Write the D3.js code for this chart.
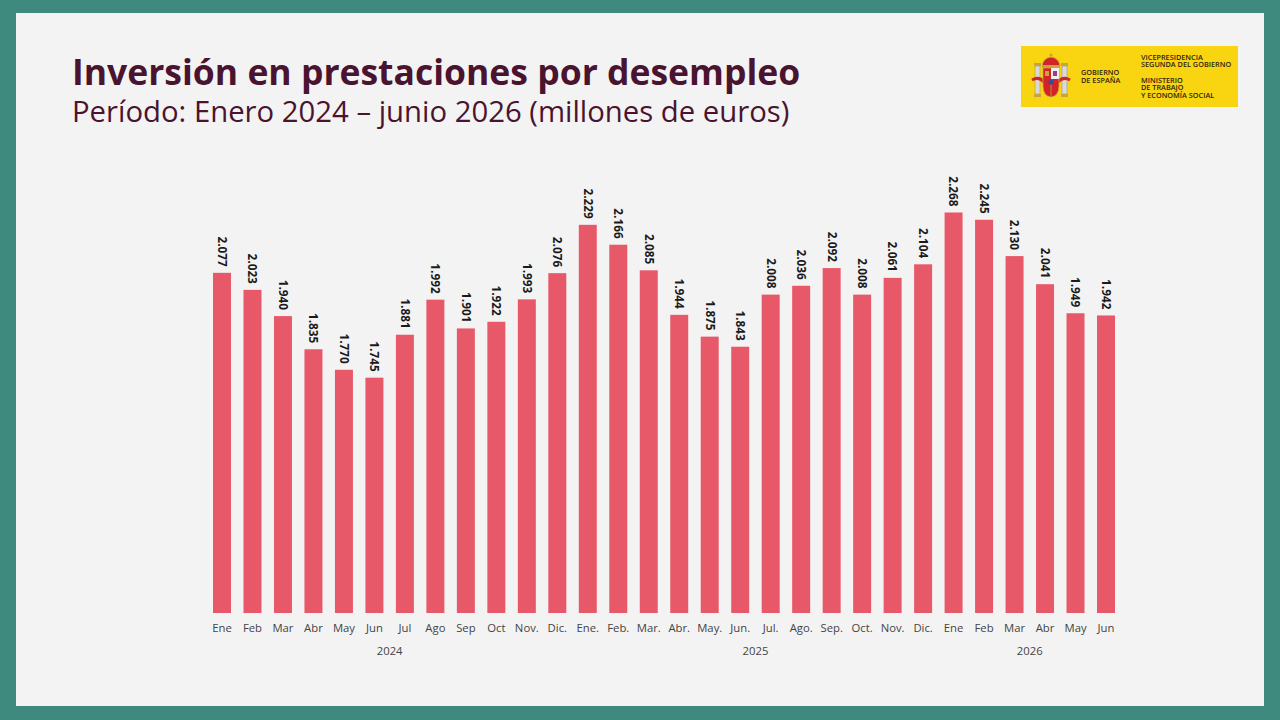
<!DOCTYPE html>
<html><head><meta charset="utf-8">
<script src="https://cdn.jsdelivr.net/npm/d3@7/dist/d3.min.js"></script>
<style>
html,body{margin:0;padding:0;background:#3f8a7e;}
svg{display:block;font-family:"Open Sans",sans-serif;}
</style></head>
<body>
<svg id="chart" width="1280" height="720"></svg>
<script>
const months = ["Ene","Feb","Mar","Abr","May","Jun","Jul","Ago","Sep","Oct","Nov.","Dic.",
  "Ene.","Feb.","Mar.","Abr.","May.","Jun.","Jul.","Ago.","Sep.","Oct.","Nov.","Dic.",
  "Ene","Feb","Mar","Abr","May","Jun"];
const years = ["2024","2025","2026"];
const yearOf = [0,0,0,0,0,0,0,0,0,0,0,0, 1,1,1,1,1,1,1,1,1,1,1,1, 2,2,2,2,2,2];
const values = [2077,2023,1940,1835,1770,1745,1881,1992,1901,1922,1993,2076,
  2229,2166,2085,1944,1875,1843,2008,2036,2092,2008,2061,2104,
  2268,2245,2130,2041,1949,1942];
const title = "Inversión en prestaciones por desempleo";
const subtitle = "Período: Enero 2024 – junio 2026 (millones de euros)";

const svg = d3.select("#chart");
svg.append("rect").attr("x",0).attr("y",0).attr("width",1280).attr("height",720).attr("fill","#3f8a7e");
svg.append("rect").attr("x",16).attr("y",13).attr("width",1248).attr("height",693).attr("fill","#f3f3f3");

svg.append("text").attr("x",72).attr("y",85).attr("fill","#4a1430")
  .attr("font-size",35.5).attr("font-weight",700).text(title);
svg.append("text").attr("x",72).attr("y",122).attr("fill","#4a1430")
  .attr("font-size",29.3).attr("font-weight",400).text(subtitle);

// Logo
const logo = svg.append("g").attr("transform","translate(1021,46)");
logo.append("rect").attr("width",217).attr("height",61).attr("fill","#f9d411");
const arms = logo.append("g").attr("transform","translate(10,6)");
[[4],[31]].forEach(([px])=>{
  arms.append("rect").attr("x",px).attr("y",14).attr("width",5).attr("height",28).attr("fill","#d9d9d9").attr("stroke","#9a8a60").attr("stroke-width",0.5);
  arms.append("rect").attr("x",px-1).attr("y",11).attr("width",7).attr("height",3).attr("fill","#c9a43a");
  arms.append("rect").attr("x",px-1).attr("y",42).attr("width",7).attr("height",3).attr("fill","#c9a43a");
});
arms.append("path").attr("d","M1,28 Q8,24 13,30 M27,30 Q32,24 39,28").attr("stroke","#d2232a").attr("stroke-width",3).attr("fill","none");
arms.append("path").attr("d","M11,14 Q12,6 20,5 Q28,6 29,14 Z").attr("fill","#d2232a").attr("stroke","#c9a43a").attr("stroke-width",1);
arms.append("rect").attr("x",11).attr("y",13).attr("width",18).attr("height",3).attr("fill","#c9a43a");
arms.append("circle").attr("cx",20).attr("cy",3).attr("r",1.6).attr("fill","#c9a43a");
arms.append("path").attr("d","M12,16 H28 V34 Q28,44 20,45 Q12,44 12,34 Z").attr("fill","#d2232a").attr("stroke","#c9a43a").attr("stroke-width",0.8);
arms.append("rect").attr("x",20).attr("y",16).attr("width",8).attr("height",11).attr("fill","#eee");
arms.append("rect").attr("x",22).attr("y",19).attr("width",4).attr("height",5).attr("fill","#9b3b8a");
arms.append("rect").attr("x",14).attr("y",19).attr("width",4).attr("height",5).attr("fill","#c9a43a");
arms.append("circle").attr("cx",20).attr("cy",30).attr("r",2.5).attr("fill","#2f4fa0");
arms.append("line").attr("x1",20).attr("y1",33).attr("x2",20).attr("y2",44).attr("stroke","#c9a43a").attr("stroke-width",0.8);

const lt = logo.append("g").attr("fill","#2e2510").attr("font-size",7.3).attr("font-weight",600);
lt.append("text").attr("x",60).attr("y",28.5).text("GOBIERNO");
lt.append("text").attr("x",60).attr("y",36.5).text("DE ESPAÑA");
lt.append("text").attr("x",120).attr("y",13.5).text("VICEPRESIDENCIA");
lt.append("text").attr("x",120).attr("y",21).text("SEGUNDA DEL GOBIERNO");
lt.append("text").attr("x",120).attr("y",36.5).text("MINISTERIO");
lt.append("text").attr("x",120).attr("y",44).text("DE TRABAJO");
lt.append("text").attr("x",120).attr("y",51.5).text("Y ECONOMÍA SOCIAL");

// Scales
const idx = d3.range(values.length);
const x = d3.scaleBand().domain(idx).range([206.76,1121.24]).paddingInner(0.41).paddingOuter(0.205);
const y = d3.scaleLinear().domain([1000,2268]).range([613,212.5]);

const fmt = v => d3.format(",")(v).replace(/,/g,".");

svg.append("g").selectAll("rect").data(idx).join("rect")
  .attr("x",i=>x(i)).attr("width",x.bandwidth())
  .attr("y",i=>y(values[i])).attr("height",i=>y(1000)-y(values[i]))
  .attr("fill","#e75968");

svg.append("g").selectAll("text").data(idx).join("text")
  .attr("transform",i=>`translate(${x(i)+x.bandwidth()/2},${y(values[i])-6}) rotate(90)`)
  .attr("text-anchor","end").attr("dy","0.35em")
  .attr("font-size",11.8).attr("font-weight",700).attr("fill","#1a1a1a")
  .text(i=>fmt(values[i]));

const axis = d3.axisBottom(x).tickSize(0).tickPadding(0).tickFormat(i=>months[i]);
const ag = svg.append("g").attr("transform","translate(0,613)").call(axis);
ag.select(".domain").remove();
ag.selectAll("text").attr("y",11).attr("dy","0.71em").attr("font-size",11.3).attr("fill","#444")
  .attr("font-family","'Open Sans',sans-serif");

const yearCenters = years.map((yr,k)=>{
  const ids = idx.filter(i=>yearOf[i]===k);
  return (x(ids[0]) + x(ids[ids.length-1]) + x.bandwidth())/2;
});
svg.append("g").selectAll("text").data(years).join("text")
  .attr("x",(d,k)=>yearCenters[k]).attr("y",655).attr("text-anchor","middle")
  .attr("font-size",11.3).attr("fill","#444").text(d=>d);
</script>
</body></html>
